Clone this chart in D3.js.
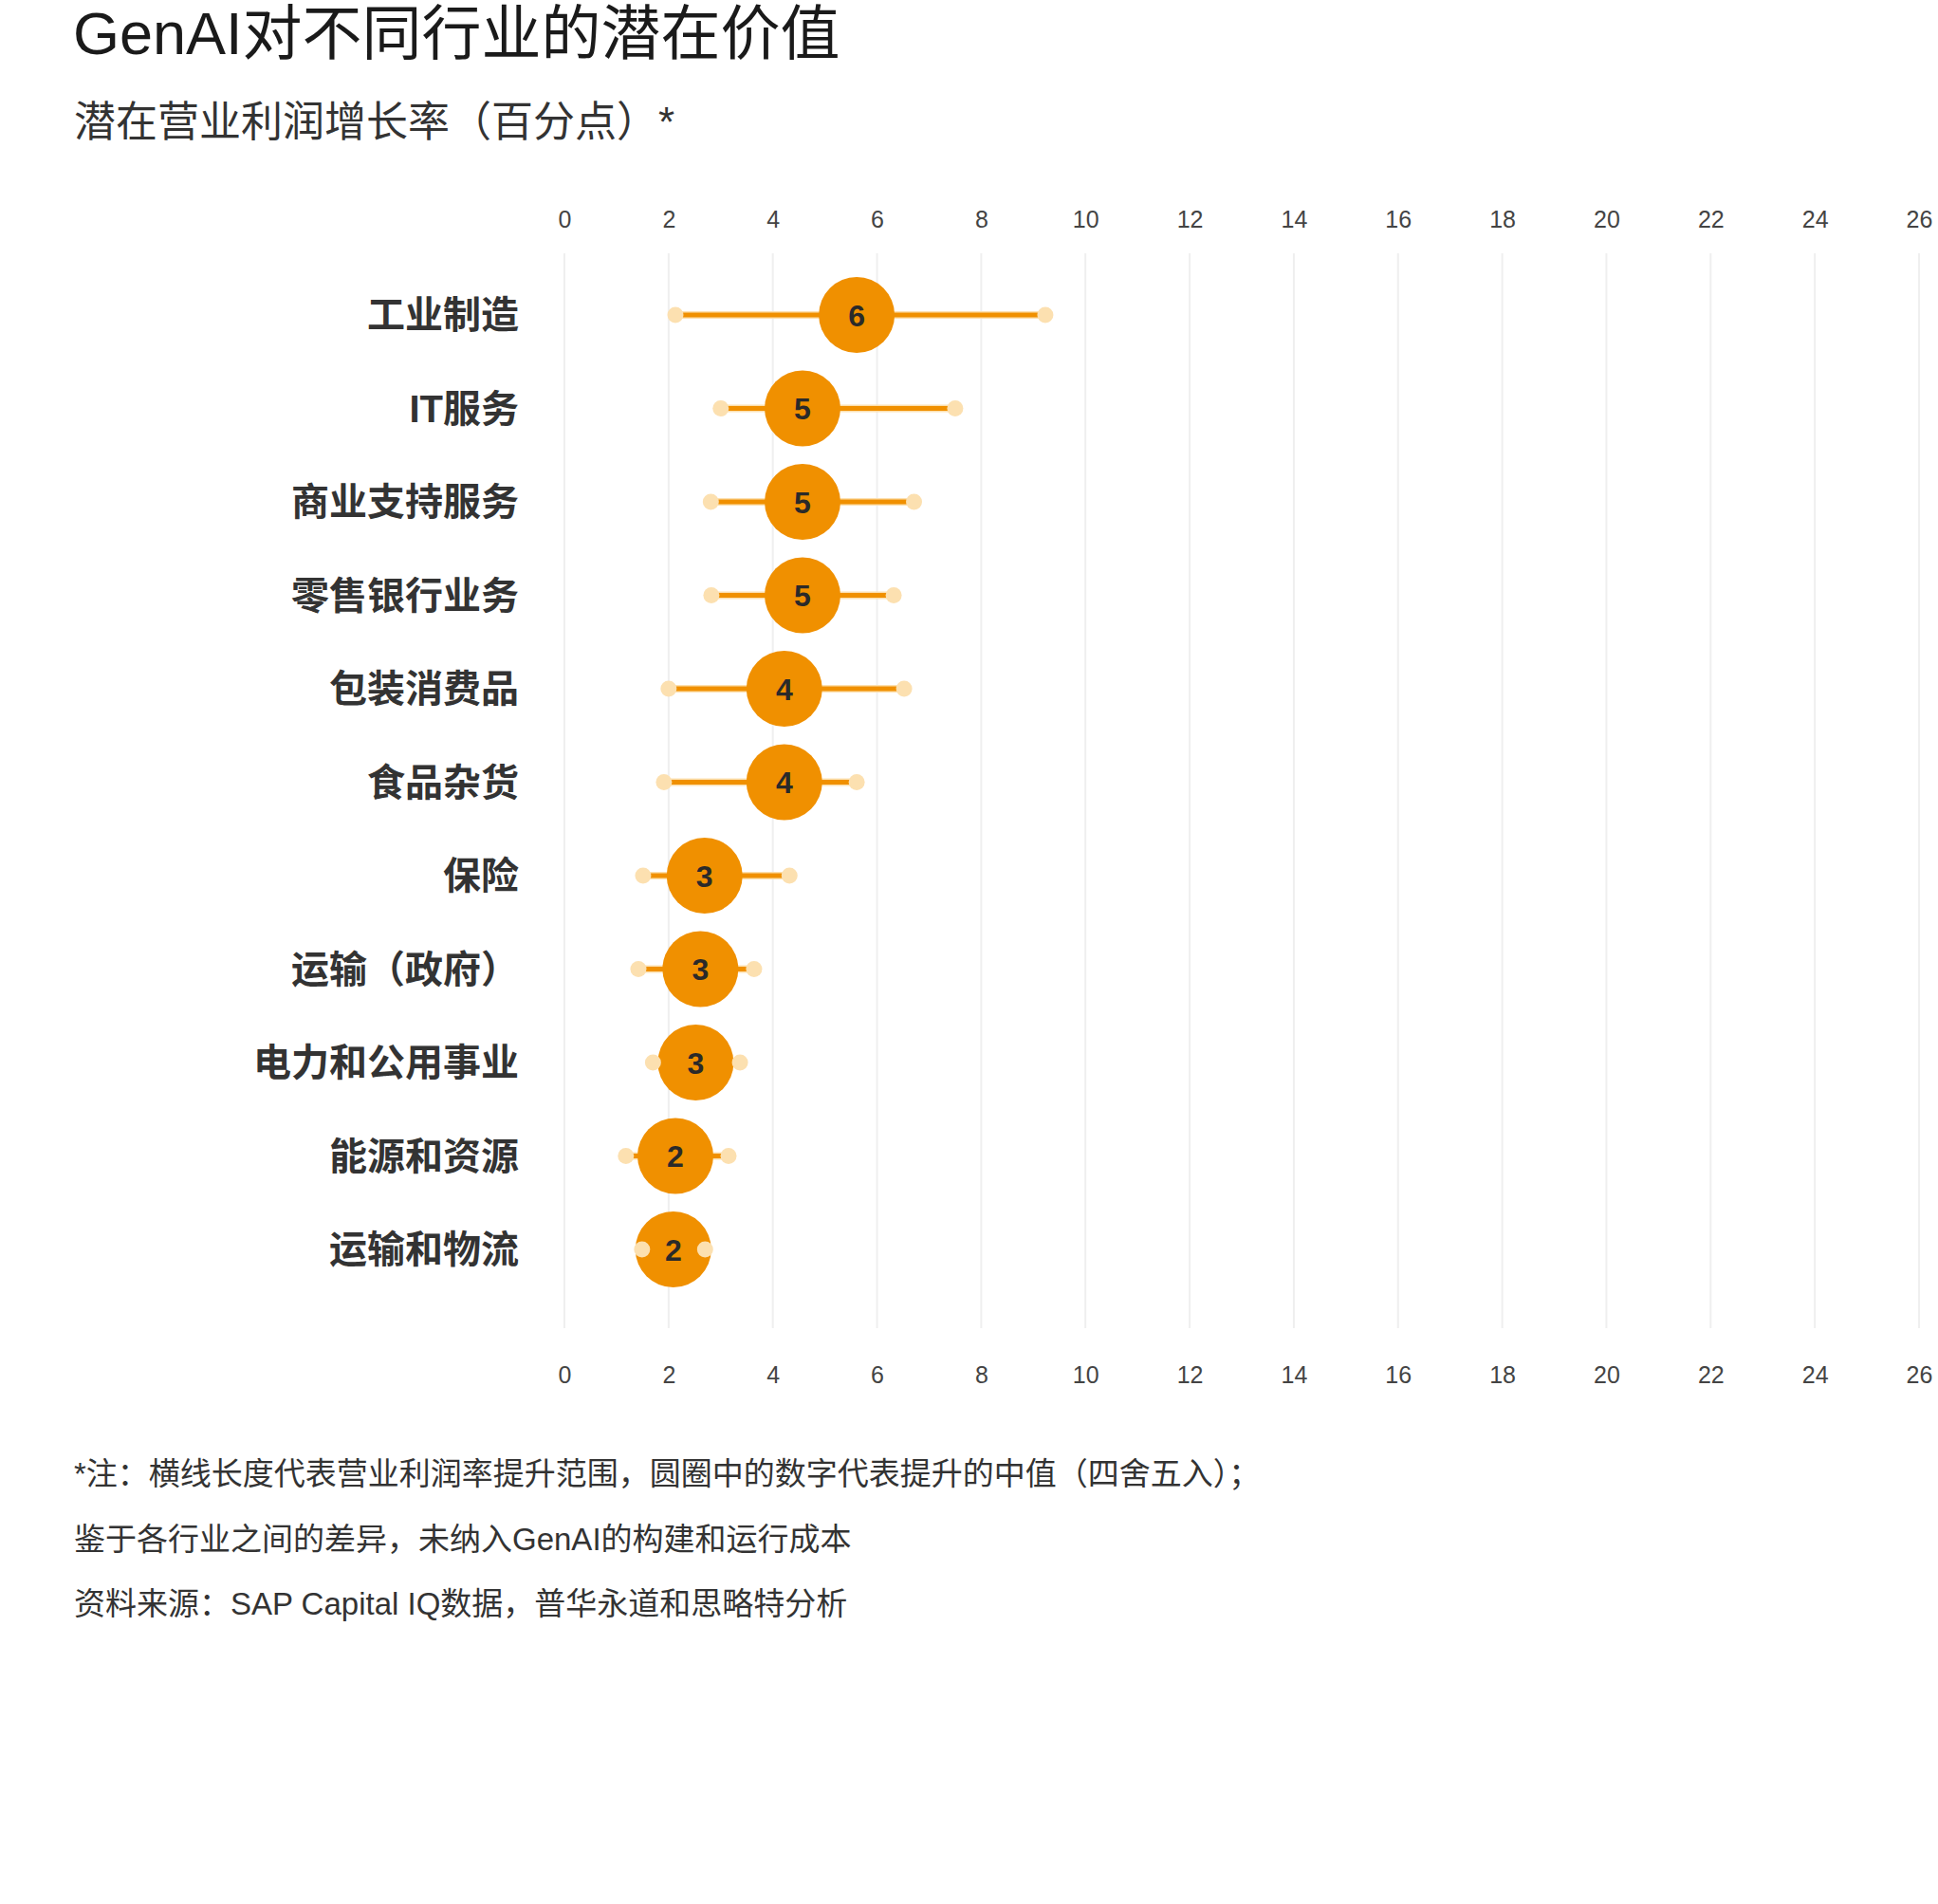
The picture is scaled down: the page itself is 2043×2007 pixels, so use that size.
<!DOCTYPE html>
<html>
<head>
<meta charset="utf-8">
<script src="https://cdn.jsdelivr.net/npm/d3@7"></script>
<style>
  html, body { margin: 0; padding: 0; background: #ffffff; }
  svg { display: block; }
  text { font-family: "Liberation Sans", Arial, "Noto Sans CJK SC", sans-serif; }
</style>
</head>
<body>
<script>
// ---- Data ----
const categories = ["工业制造", "IT服务", "商业支持服务", "零售银行业务", "包装消费品", "食品杂货", "保险", "运输（政府）", "电力和公用事业", "能源和资源", "运输和物流"];
const lowValues    = [2.13, 3.00, 2.81, 2.82, 2.00, 1.91, 1.51, 1.42, 1.70, 1.18, 1.49];
const highValues   = [9.23, 7.50, 6.71, 6.32, 6.52, 5.61, 4.32, 3.64, 3.37, 3.15, 2.70];
const medianValues = [5.61, 4.57, 4.57, 4.57, 4.22, 4.22, 2.69, 2.61, 2.52, 2.13, 2.09];
const medianLabels = ["6", "5", "5", "5", "4", "4", "3", "3", "3", "2", "2"];
const tickValues   = [0, 2, 4, 6, 8, 10, 12, 14, 16, 18, 20, 22, 24, 26];

const title = "GenAI对不同行业的潜在价值";
const subtitle = "潜在营业利润增长率（百分点）*";
const notes = [
  "*注：横线长度代表营业利润率提升范围，圆圈中的数字代表提升的中值（四舍五入）；",
  "鉴于各行业之间的差异，未纳入GenAI的构建和运行成本",
  "资料来源：SAP Capital IQ数据，普华永道和思略特分析"
];

// ---- Layout ----
const W = 2043, H = 2007;
const svg = d3.select("body").append("svg").attr("width", W).attr("height", H);

const x = d3.scaleLinear().domain([0, 26]).range([595, 2023]);
const y = d3.scalePoint().domain(categories).range([332, 1317]);

const gridTop = 267, gridBottom = 1400;
const orange = "#F09000";
const peach = "#FCE0B0";

// Title & subtitle
svg.append("text").attr("x", 77).attr("y", 57)
  .attr("font-size", 63).attr("fill", "#1a1a1a").text(title);
svg.append("text").attr("x", 78).attr("y", 144)
  .attr("font-size", 44).attr("fill", "#333").text(subtitle);

// Gridlines
svg.append("g").selectAll("line").data(tickValues).join("line")
  .attr("x1", d => x(d)).attr("x2", d => x(d))
  .attr("y1", gridTop).attr("y2", gridBottom)
  .attr("stroke", "#efefef").attr("stroke-width", 2);

// Axes (labels only)
const topAxis = svg.append("g").attr("transform", "translate(0,240)")
  .call(d3.axisTop(x).tickValues(tickValues).tickSize(0).tickPadding(0));
const bottomAxis = svg.append("g").attr("transform", "translate(0,1440)")
  .call(d3.axisBottom(x).tickValues(tickValues).tickSize(0).tickPadding(0));
[topAxis, bottomAxis].forEach(g => {
  g.select(".domain").remove();
  g.selectAll("text")
    .attr("font-size", 25).attr("fill", "#444")
    .style("font-family", "'Liberation Sans', Arial, sans-serif");
});
topAxis.selectAll("text").attr("dy", 0);
bottomAxis.selectAll("text").attr("dy", "0.71em");

// Category labels
svg.append("g").selectAll("text").data(categories).join("text")
  .attr("x", 547).attr("y", d => y(d))
  .attr("dy", "0.36em")
  .attr("text-anchor", "end")
  .attr("font-size", 40).attr("font-weight", "bold").attr("fill", "#333")
  .text(d => d);

// Rows
const rows = svg.append("g").selectAll("g").data(categories).join("g");

// Range line halo + core
rows.append("line")
  .attr("x1", (d, i) => x(lowValues[i])).attr("x2", (d, i) => x(highValues[i]))
  .attr("y1", d => y(d)).attr("y2", d => y(d))
  .attr("stroke", peach).attr("stroke-width", 8);
rows.append("line")
  .attr("x1", (d, i) => x(lowValues[i])).attr("x2", (d, i) => x(highValues[i]))
  .attr("y1", d => y(d)).attr("y2", d => y(d))
  .attr("stroke", orange).attr("stroke-width", 5);

// Median circle
rows.append("circle")
  .attr("cx", (d, i) => x(medianValues[i])).attr("cy", d => y(d))
  .attr("r", 40).attr("fill", orange);

// End caps (drawn above the median circle)
rows.append("circle")
  .attr("cx", (d, i) => x(lowValues[i])).attr("cy", d => y(d))
  .attr("r", 8.5).attr("fill", peach);
rows.append("circle")
  .attr("cx", (d, i) => x(highValues[i])).attr("cy", d => y(d))
  .attr("r", 8.5).attr("fill", peach);

rows.append("text")
  .attr("x", (d, i) => x(medianValues[i])).attr("y", d => y(d))
  .attr("dy", "0.36em").attr("text-anchor", "middle")
  .attr("font-size", 32).attr("font-weight", "bold").attr("fill", "#2a2a2a")
  .text((d, i) => medianLabels[i]);

// Footnotes
svg.append("g").selectAll("text").data(notes).join("text")
  .attr("x", 78).attr("y", (d, i) => 1565 + i * 68.5)
  .attr("font-size", 33).attr("fill", "#333")
  .text(d => d);
</script>
</body>
</html>
